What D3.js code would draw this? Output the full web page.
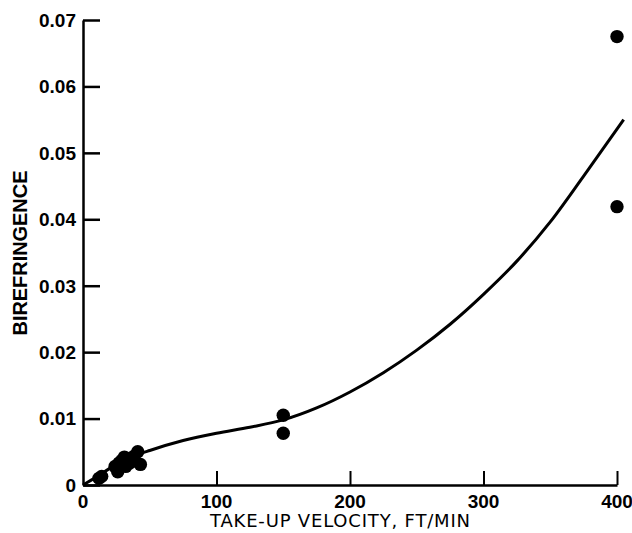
<!DOCTYPE html>
<html><head><meta charset="utf-8">
<script src="https://cdn.jsdelivr.net/npm/d3@7"></script>
<style>body{margin:0;background:#fff}svg{display:block}</style>
</head><body>
<script>
// Data
const xTicks = [0, 100, 200, 300, 400];
const yTicks = [0, 0.01, 0.02, 0.03, 0.04, 0.05, 0.06, 0.07];
const yTickLabels = ["0", "0.01", "0.02", "0.03", "0.04", "0.05", "0.06", "0.07"];
const pointX = [12, 14, 24, 26, 27, 29, 31, 32, 35, 36, 38, 41, 43, 150, 150, 400, 400];
const pointY = [0.0010, 0.0013, 0.0028, 0.0020, 0.0033, 0.0037, 0.0042, 0.0028, 0.0033, 0.0040, 0.0043, 0.0050, 0.0031, 0.0105, 0.0078, 0.0675, 0.0419];
const curveX = [0, 10, 20, 30, 40, 50, 75, 100, 125, 150, 175, 200, 225, 250, 275, 300, 325, 350, 375, 405];
const curveY = [0, 0.0012, 0.0025, 0.0036, 0.0045, 0.0052, 0.0067, 0.0078, 0.0087, 0.0098, 0.0116, 0.0140, 0.0169, 0.0203, 0.0242, 0.0287, 0.0337, 0.0396, 0.0465, 0.0550];

const W = 632, H = 533;
const svg = d3.select("body").append("svg").attr("width", W).attr("height", H);
const x = d3.scaleLinear().domain([0, 400]).range([83, 617]);
const y = d3.scaleLinear().domain([0, 0.07]).range([485, 20]);

const g = svg.append("g");
// Y axis
const yAxis = d3.axisRight(y).tickValues(yTicks).tickSize(17).tickFormat("").tickSizeOuter(0);
const ya = g.append("g").attr("transform", `translate(${x(0)},0)`).call(yAxis);
ya.select(".domain").attr("stroke", "#000").attr("stroke-width", 2.5);
ya.selectAll(".tick line").attr("stroke", "#000").attr("stroke-width", 2.5);
// X axis
const xAxis = d3.axisTop(x).tickValues(xTicks).tickSize(14).tickFormat("").tickSizeOuter(0);
const xa = g.append("g").attr("transform", `translate(0,${y(0)})`).call(xAxis);
xa.select(".domain").attr("stroke", "#000").attr("stroke-width", 2.5);
xa.selectAll(".tick line").attr("stroke", "#000").attr("stroke-width", 2);
xa.selectAll(".tick").filter(d => d === 0).remove();

// tick labels
g.selectAll(".ylab").data(yTicks).enter().append("text")
  .attr("x", 76).attr("y", d => y(d)).attr("dy", "0.36em")
  .attr("text-anchor", "end")
  .style("font-family", "'Liberation Sans', Arial, sans-serif")
  .style("font-weight", "bold").style("font-size", "19px")
  .text((d, i) => yTickLabels[i]);
g.selectAll(".xlab").data(xTicks).enter().append("text")
  .attr("x", d => x(d)).attr("y", 508)
  .attr("text-anchor", "middle")
  .style("font-family", "'Liberation Sans', Arial, sans-serif")
  .style("font-weight", "bold").style("font-size", "19px")
  .text(d => d);

// axis titles
g.append("text").attr("transform", "translate(27,253) rotate(-90)")
  .attr("text-anchor", "middle")
  .style("font-family", "'Liberation Sans', Arial, sans-serif")
  .style("font-weight", "bold").style("font-size", "20px")
  .attr("textLength", 165)
  .text("BIREFRINGENCE");
g.append("text").attr("x", 340).attr("y", 527)
  .attr("text-anchor", "middle")
  .style("font-family", "'DejaVu Sans', sans-serif")
  .style("font-size", "18px")
  .attr("textLength", 260)
  .text("TAKE-UP VELOCITY, FT/MIN");

// curve
const pts = curveX.map((v, i) => [v, curveY[i]]);
g.append("path").datum(pts)
  .attr("d", d3.line().x(d => x(d[0])).y(d => y(d[1])).curve(d3.curveMonotoneX))
  .attr("fill", "none").attr("stroke", "#000").attr("stroke-width", 3);

// points
g.selectAll(".pt").data(pointX).enter().append("circle")
  .attr("cx", d => x(d)).attr("cy", (d, i) => y(pointY[i]))
  .attr("r", 6.7).attr("fill", "#000");
</script>
</body></html>
